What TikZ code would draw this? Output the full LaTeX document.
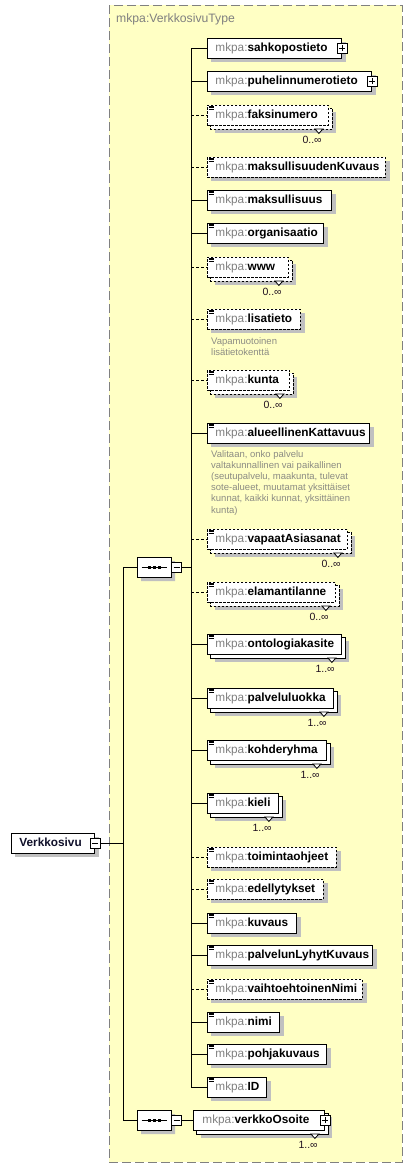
\documentclass[tikz,border=0pt]{standalone}
\usepackage{fontspec}
\setmainfont{Liberation Sans}
\usetikzlibrary{calc,shapes.misc}
\pgfdeclarelayer{bg}\pgfdeclarelayer{sh}\pgfdeclarelayer{st}
\pgfsetlayers{bg,sh,st,main}
\definecolor{ybg}{HTML}{FFFFC4}
\definecolor{shc}{HTML}{C0C0C0}
\definecolor{pfxc}{HTML}{808080}
\definecolor{annc}{HTML}{8C8C84}
\definecolor{multc}{HTML}{201020}
\definecolor{framec}{HTML}{808080}
\definecolor{rootc}{HTML}{10102A}
\tikzset{
 elbox/.style={draw=black, fill=white, line width=0.9pt, anchor=west, inner xsep=8pt, inner ysep=0pt,
   minimum height=20pt, align=left, text height=8.5pt, text depth=2.4pt, font=\fontsize{11.8}{13}\selectfont},
 optbox/.style={dash pattern=on 2.5pt off 1.5pt},
 optline/.style={dash pattern=on 3pt off 2pt},
 conn/.style={line width=0.9pt},
 pmbox/.style={draw, fill=white, line width=0.8pt, minimum width=10pt, minimum height=10pt, inner sep=0pt},
 plusbox/.style={pmbox, path picture={\draw[line width=0.8pt]
   ([xshift=-3pt]path picture bounding box.center) -- ([xshift=3pt]path picture bounding box.center)
   ([yshift=-3pt]path picture bounding box.center) -- ([yshift=3pt]path picture bounding box.center);}},
 minusbox/.style={pmbox, path picture={\draw[line width=0.8pt]
   ([xshift=-3pt]path picture bounding box.center) -- ([xshift=3pt]path picture bounding box.center);}},
 seqbox/.style={chamfered rectangle, chamfered rectangle xsep=5pt, chamfered rectangle ysep=5pt,
   draw, fill=white, line width=0.9pt, minimum width=34pt, minimum height=20pt, inner sep=0pt},
 mult/.style={inner sep=0pt, text=multc, font=\fontsize{10.5}{12}\selectfont},
 ann/.style={inner sep=0pt, anchor=north west, align=left, text=annc, font=\fontsize{9.5}{11.1}\selectfont},
}
\newcommand\lab[1]{{\color{pfxc}mkpa:}\textbf{#1}}
\newcommand\shad[1]{\begin{pgfonlayer}{sh}\fill[shc] ($(#1.north west)+(4,4)$) rectangle ($(#1.south east)+(4,4)$);\end{pgfonlayer}}
\newcommand\stk[3][]{%
 \begin{pgfonlayer}{sh}\fill[shc] ($(#2.north west)+(7.5,7.5)$) rectangle ($(#2.south east)+(7.5,7.5)$);\end{pgfonlayer}%
 \begin{pgfonlayer}{st}\draw[fill=white,line width=0.9pt,#1] ($(#2.north west)+(3.5,3.5)$) rectangle ($(#2.south east)+(3.5,3.5)$);\end{pgfonlayer}%
 \filldraw[fill=white,line width=0.8pt] ($(#2.south east)+(-14,3.5)$) -- ++(4,4.5) -- ++(4,-4.5) -- cycle;
 \node[mult, anchor=east] (#2-m) at ($(#2.south east)+(-7,14)$) {#3};}
\newcommand\icn[1]{\foreach \d in {1.3,2.8,4.3}{\draw[line width=0.5pt] ($(#1.north west)+(1.5,\d)$) -- ++(5.5,0);}}
\begin{document}
\begin{tikzpicture}[x=1pt,y=-1pt]
\useasboundingbox (0,0) rectangle (413,1168);
\begin{pgfonlayer}{bg}
\draw[framec, fill=ybg, line width=1pt, dash pattern=on 9pt off 4pt] (109,5) rectangle (402,1162);
\end{pgfonlayer}
\node[anchor=west, inner sep=0pt, font=\fontsize{12.2}{14}\selectfont, text=pfxc] (title) at (116,19) {mkpa:VerkkosivuType};

% root
\node[elbox, text width=67pt] (root) at (11,843) {\color{rootc}\textbf{Verkkosivu}};
\shad{root}
\node[minusbox] (root-m) at (root.east) {};

% sequences
\begin{pgfonlayer}{sh}
\node[seqbox, draw=none, fill=shc] (seq1s) at (158,571) {};
\node[seqbox, draw=none, fill=shc] (seq2s) at (158,1124) {};
\end{pgfonlayer}
\node[seqbox] (seq1) at (154,567) {};
\node[seqbox] (seq2) at (154,1120) {};
\foreach \s in {seq1,seq2}{
  \draw[line width=0.9pt] ($(\s.center)+(-12.5,0)$) -- ($(\s.center)+(12.5,0)$);
  \foreach \d in {-5,0,5}{\fill ($(\s.center)+(\d-1.5,-1.5)$) rectangle ++(3,3);}
}
\node[minusbox] (seq1-m) at (176.5,567) {};
\node[minusbox] (seq2-m) at (176.5,1120) {};

% elements
\node[elbox, text width=118pt] (sahko) at (207,48) {\lab{sahkopostieto}}; \shad{sahko}
\node[plusbox] (sahko-p) at (sahko.east) {};
\node[elbox, text width=148pt] (puhel) at (207,81) {\lab{puhelinnumerotieto}}; \shad{puhel}
\node[plusbox] (puhel-p) at (puhel.east) {};
\node[elbox, optbox, text width=105pt] (faksi) at (207,115) {\lab{faksinumero}}; \stk[optbox]{faksi}{0..∞} \icn{faksi}
\node[elbox, optbox, text width=162pt] (maksk) at (207,167) {\lab{maksullisuudenKuvaus}}; \shad{maksk} \icn{maksk}
\node[elbox, text width=108pt] (maks) at (207,200) {\lab{maksullisuus}}; \shad{maks} \icn{maks}
\node[elbox, text width=100pt] (org) at (207,233) {\lab{organisaatio}}; \shad{org} \icn{org}
\node[elbox, optbox, text width=65pt] (www) at (207,267) {\lab{www}}; \stk[optbox]{www}{0..∞} \icn{www}
\node[elbox, optbox, text width=77pt] (lisa) at (207,319) {\lab{lisatieto}}; \shad{lisa} \icn{lisa}
\node[ann] (lisa-a) at (211,337.5) {Vapamuotoinen\\lisätietokenttä};
\node[elbox, optbox, text width=66pt] (kunta) at (207,380) {\lab{kunta}}; \stk[optbox]{kunta}{0..∞} \icn{kunta}
\node[elbox, text width=146pt] (alue) at (207,433) {\lab{alueellinenKattavuus}}; \shad{alue} \icn{alue}
\node[ann] (alue-a) at (211,450.5) {Valitaan, onko palvelu\\valtakunnallinen vai paikallinen\\(seutupalvelu, maakunta, tulevat\\sote-alueet, muutamat yksittäiset\\kunnat, kaikki kunnat, yksittäinen\\kunta)};
\node[elbox, optbox, text width=124pt] (vapaat) at (207,539) {\lab{vapaatAsiasanat}}; \stk[optbox]{vapaat}{0..∞} \icn{vapaat}
\node[elbox, optbox, text width=112pt] (elam) at (207,592) {\lab{elamantilanne}}; \stk[optbox]{elam}{0..∞} \icn{elam}
\node[elbox, text width=118pt] (onto) at (207,644) {\lab{ontologiakasite}}; \stk{onto}{1..∞} \icn{onto}
\node[elbox, text width=110pt] (palv) at (207,698) {\lab{palveluluokka}}; \stk{palv}{1..∞} \icn{palv}
\node[elbox, text width=103pt] (kohde) at (207,750) {\lab{kohderyhma}}; \stk{kohde}{1..∞} \icn{kohde}
\node[elbox, text width=55pt] (kieli) at (207,803) {\lab{kieli}}; \stk{kieli}{1..∞} \icn{kieli}
\node[elbox, optbox, text width=113pt] (toim) at (207,857) {\lab{toimintaohjeet}}; \shad{toim} \icn{toim}
\node[elbox, optbox, text width=100pt] (edel) at (207,889) {\lab{edellytykset}}; \shad{edel} \icn{edel}
\node[elbox, text width=73pt] (kuv) at (207,923) {\lab{kuvaus}}; \shad{kuv} \icn{kuv}
\node[elbox, text width=149pt] (lyhyt) at (207,955) {\lab{palvelunLyhytKuvaus}}; \shad{lyhyt} \icn{lyhyt}
\node[elbox, optbox, text width=139pt] (vaiht) at (207,989) {\lab{vaihtoehtoinenNimi}}; \shad{vaiht} \icn{vaiht}
\node[elbox, text width=56pt] (nimi) at (207,1022) {\lab{nimi}}; \shad{nimi} \icn{nimi}
\node[elbox, text width=103pt] (pohja) at (207,1054) {\lab{pohjakuvaus}}; \shad{pohja} \icn{pohja}
\node[elbox, text width=43pt] (id) at (207,1087) {\lab{ID}}; \shad{id} \icn{id}
\node[elbox, text width=113pt, inner xsep=9pt] (verk) at (193,1120) {\lab{verkkoOsoite}}; \stk{verk}{1..∞}
\node[plusbox] (verk-p) at (verk.east) {};

% connectors
\coordinate (bustop) at (191,48);
\coordinate (vtop) at (123,567);
\coordinate (vbot) at (123,1120);
\draw[conn] (root-m.east) -- (root-m.east -| vtop);
\draw[conn] (seq1.west) -- (vtop) -- (vbot) -- (seq2.west);
\draw[conn] (seq1-m.east) -- (seq1-m.east -| bustop);
\draw[conn] (seq2-m.east) -- (verk.west);
\draw[conn] (sahko.west) -- (sahko.west -| bustop) -- (id.west -| bustop) -- (id.west);
\foreach \e in {puhel,maks,org,alue,onto,palv,kohde,kieli,kuv,lyhyt,nimi,pohja}{
  \draw[conn] (\e.west -| bustop) -- (\e.west);}
\foreach \e in {faksi,maksk,www,lisa,kunta,vapaat,elam,toim,edel,vaiht}{
  \draw[conn, optline] (\e.west -| bustop) -- (\e.west);}
\end{tikzpicture}
\end{document}
